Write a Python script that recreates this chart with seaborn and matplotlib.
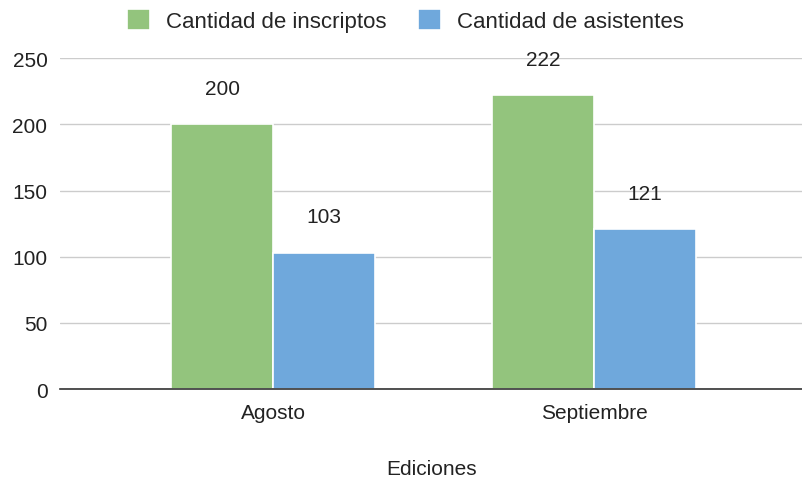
import pandas as pd
import matplotlib.pyplot as plt
import seaborn as sns

ediciones = ['Agosto', 'Septiembre']
inscriptos = [200, 222]
asistentes = [103, 121]
series = ['Cantidad de inscriptos', 'Cantidad de asistentes']
colores = ['#93c47d', '#6fa8dc']

df = pd.DataFrame({
    'Ediciones': ediciones * 2,
    'Serie': [series[0]] * 2 + [series[1]] * 2,
    'Valor': inscriptos + asistentes,
})

sns.set_style('white')
plt.rcParams['font.family'] = ['Liberation Sans', 'DejaVu Sans']

fig = plt.figure(figsize=(8.03, 4.81), dpi=100)
ax = fig.add_axes([0.0747, 0.189, 0.925, 0.688])

sns.barplot(data=df, x='Ediciones', y='Valor', hue='Serie', palette=colores,
            saturation=1, width=0.635, edgecolor='white', linewidth=1.2,
            ax=ax, legend=True)

for c in ax.containers:
    ax.bar_label(c, padding=19, fontsize=15, color='#222222')

ax.set_ylim(0, 250)
ax.set_yticks([0, 50, 100, 150, 200, 250])
ax.set_xlim(-0.664, 1.65)
ax.grid(axis='y', color='#cccccc', linewidth=1)
ax.set_axisbelow(True)
for s in ['top', 'right', 'left']:
    ax.spines[s].set_visible(False)
ax.spines['bottom'].set_color('#333333')
ax.spines['bottom'].set_linewidth(1.2)
ax.tick_params(axis='both', length=0, labelsize=15, colors='#222222')
ax.tick_params(axis='y', pad=9)
ax.tick_params(axis='x', pad=10)
ax.set_ylabel('')
ax.set_xlabel('Ediciones', fontsize=15, color='#222222', labelpad=27)

h, l = ax.get_legend_handles_labels()
ax.get_legend().remove()
fig.legend(h, l, loc='upper center', bbox_to_anchor=(0.505, 1.02), ncol=2,
           frameon=False, fontsize=16, handlelength=1.04, handleheight=1.04,
           columnspacing=1.4, handletextpad=0.72)

fig.savefig('out.png', dpi=100)
